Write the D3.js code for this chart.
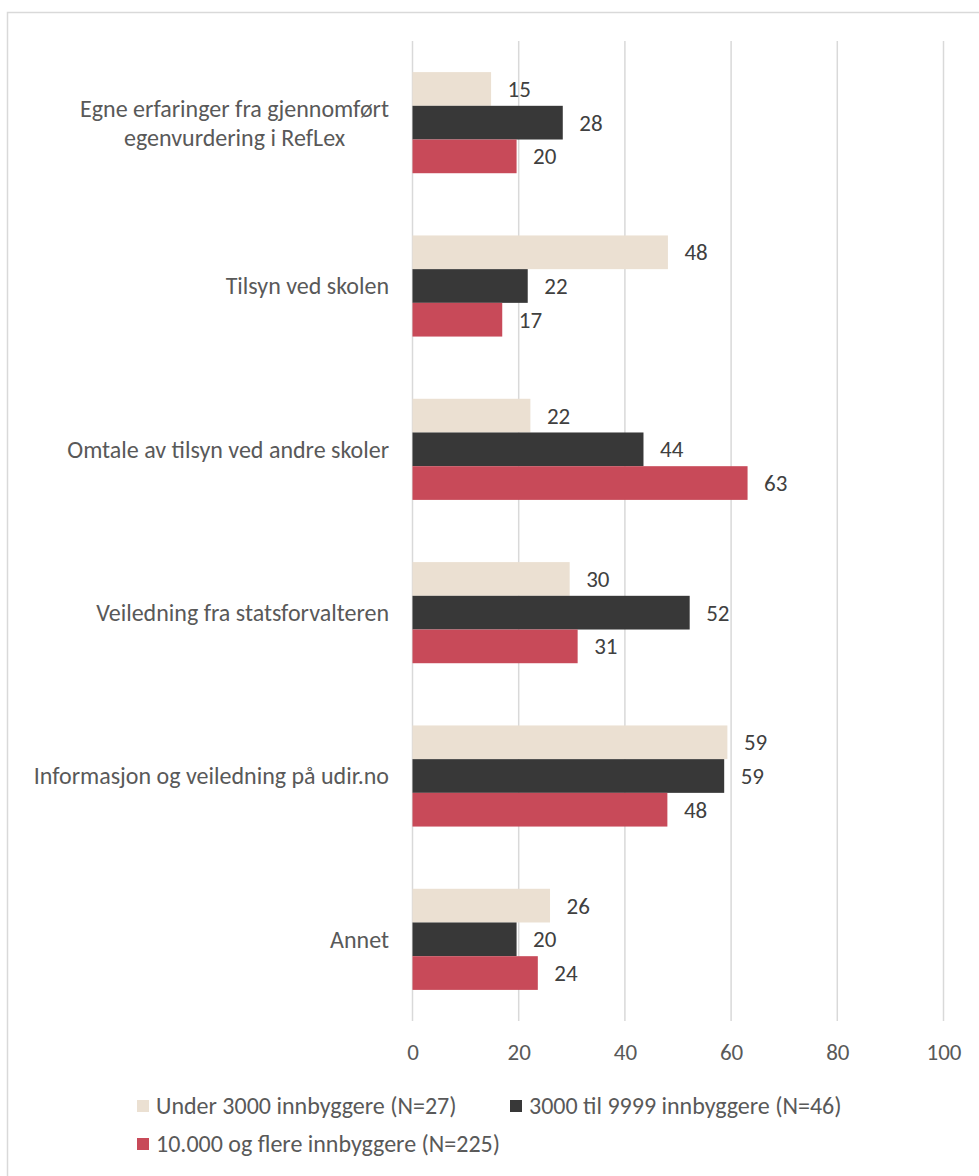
<!DOCTYPE html>
<html>
<head>
<meta charset="utf-8">
<script src="https://cdn.jsdelivr.net/npm/d3@7"></script>
<style>
  html, body { margin: 0; padding: 0; background: #fff; }
  svg { display: block; }
  text { font-family: Carlito, Calibri, "Open Sans", sans-serif; }
</style>
</head>
<body>
<svg id="chart" width="979" height="1176"></svg>
<script>
const categories = [
  ["Egne erfaringer fra gjennomført", "egenvurdering i RefLex"],
  ["Tilsyn ved skolen"],
  ["Omtale av tilsyn ved andre skoler"],
  ["Veiledning fra statsforvalteren"],
  ["Informasjon og veiledning på udir.no"],
  ["Annet"]
];
const seriesNames = [
  "Under 3000 innbyggere (N=27)",
  "3000 til 9999 innbyggere (N=46)",
  "10.000 og flere innbyggere (N=225)"
];
const under3000 = [14.8, 48.1, 22.2, 29.6, 59.3, 25.9];
const mid3000to9999 = [28.3, 21.7, 43.5, 52.2, 58.7, 19.6];
const over10000 = [19.6, 16.9, 63.1, 31.1, 48.0, 23.6];
const xTicks = [0, 20, 40, 60, 80, 100];
const colors = ["#ebe0d2", "#383838", "#c84a59"];

const seriesValues = [under3000, mid3000to9999, over10000];
const catKeys = categories.map(c => c.join(" "));
const FONT = 'Carlito, Calibri, "Open Sans", sans-serif';

const svg = d3.select("#chart");

// outer frame
svg.append("rect")
  .attr("x", 7.5).attr("y", 12.5)
  .attr("width", 1000).attr("height", 1200)
  .attr("fill", "none").attr("stroke", "#d9d9d9").attr("stroke-width", 1.5);

const x = d3.scaleLinear().domain([0, 100]).range([412.5, 943.5]);
const y = d3.scaleBand().domain(catKeys).range([41, 1021]).padding(0);
const ySub = d3.scaleBand().domain(d3.range(3)).range([0, y.bandwidth()])
  .paddingInner(0).paddingOuter(0.923);

// gridlines
svg.append("g").selectAll("line").data(xTicks).join("line")
  .attr("x1", d => x(d)).attr("x2", d => x(d))
  .attr("y1", 41).attr("y2", 1021)
  .attr("stroke", "#d9d9d9").attr("stroke-width", 1.5);

// axis tick labels
const xAxis = d3.axisBottom(x).tickValues(xTicks).tickSize(0).tickPadding(0);
const gx = svg.append("g").attr("transform", "translate(0,1052)").call(xAxis);
gx.select(".domain").remove();
gx.selectAll("text")
  .attr("dy", "0.35em").attr("y", 0)
  .attr("fill", "#595959").attr("font-size", 23)
  .style("font-family", FONT);

// bars
const groups = svg.append("g").selectAll("g").data(catKeys).join("g")
  .attr("transform", d => `translate(0,${y(d)})`);

groups.each(function(key, ci) {
  const g = d3.select(this);
  seriesValues.forEach((vals, si) => {
    const v = vals[ci];
    g.append("rect")
      .attr("x", x(0)).attr("y", ySub(si))
      .attr("width", x(v) - x(0)).attr("height", ySub.bandwidth())
      .attr("fill", colors[si]);
    g.append("text")
      .attr("x", x(v) + 16.5).attr("y", ySub(si) + ySub.bandwidth() / 2)
      .attr("dy", "0.35em")
      .attr("fill", "#404040").attr("font-size", 23)
      .text(Math.round(v));
  });
});

// category labels
categories.forEach((lines, ci) => {
  const cy = y(catKeys[ci]) + y.bandwidth() / 2;
  const lh = 29;
  const t = svg.append("text")
    .attr("fill", "#595959").attr("font-size", 24)
    .attr("text-anchor", "middle");
  lines.forEach((ln, li) => {
    t.append("tspan")
      .attr("x", 0)
      .attr("y", cy + (li - (lines.length - 1) / 2) * lh)
      .attr("dy", "0.35em")
      .text(ln);
  });
  const w = t.node().getBBox().width;
  t.attr("transform", `translate(${389 - w / 2},0)`);
});

// legend
const legendItems = [
  {name: seriesNames[0], color: colors[0], sx: 137, ty: 1106},
  {name: seriesNames[1], color: colors[1], sx: 510, ty: 1106},
  {name: seriesNames[2], color: colors[2], sx: 137, ty: 1144}
];
const lg = svg.append("g").selectAll("g").data(legendItems).join("g");
lg.append("rect")
  .attr("x", d => d.sx).attr("y", d => d.ty - 6)
  .attr("width", 12).attr("height", 12)
  .attr("fill", d => d.color);
lg.append("text")
  .attr("x", d => d.sx + 19).attr("y", d => d.ty).attr("dy", "0.35em")
  .attr("fill", "#595959").attr("font-size", 24)
  .text(d => d.name);
</script>
</body>
</html>
